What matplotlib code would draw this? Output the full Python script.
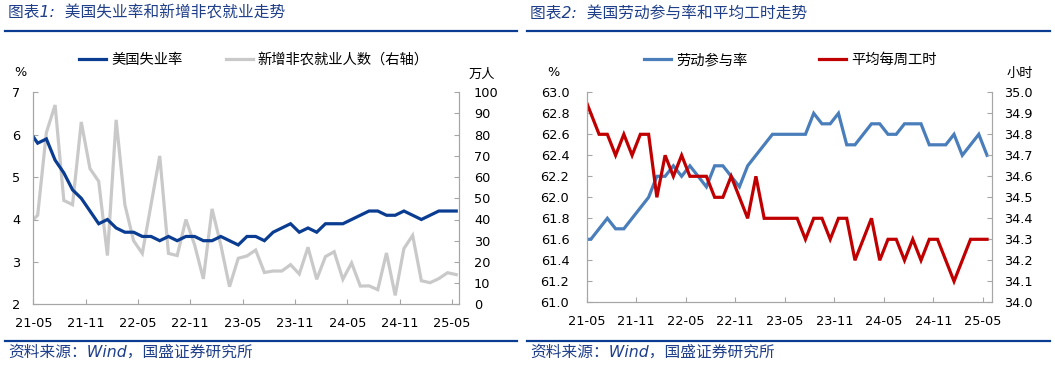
import numpy as np
import matplotlib
matplotlib.use('Agg')
import matplotlib.pyplot as plt
from matplotlib.lines import Line2D

plt.rcParams['font.family'] = ['DejaVu Sans', 'Noto Sans CJK SC']
plt.rcParams['axes.unicode_minus'] = False

# 月度数据, 2021-04 ~ 2025-05
unemp = [6.1, 5.8, 5.9, 5.4, 5.1, 4.7, 4.5, 4.2, 3.9, 4.0,
         3.8, 3.7, 3.7, 3.6, 3.6, 3.5, 3.6, 3.5, 3.6, 3.6,
         3.5, 3.5, 3.6, 3.5, 3.4, 3.6, 3.6, 3.5, 3.7, 3.8,
         3.9, 3.7, 3.8, 3.7, 3.9, 3.9, 3.9, 4.0, 4.1, 4.2,
         4.2, 4.1, 4.1, 4.2, 4.1, 4.0, 4.1, 4.2, 4.2, 4.2]
payrolls = [38, 42, 81, 94, 49, 47, 86, 64, 58, 23,
            87, 47, 30, 24, 47, 70, 24, 23, 40, 28,
            12, 45, 28, 8.3, 21.7, 22.8, 25.6, 15, 15.7, 15.7,
            18.7, 14.3, 26.9, 11.8, 22.5, 24.8, 11.8, 19.5, 8.6, 8.7,
            6.9, 24.2, 4.2, 26.3, 32.5, 11.1, 10.2, 12.1, 14.9, 14]
lfpr = [61.6, 61.6, 61.7, 61.8, 61.7, 61.7, 61.8, 61.9, 62.0, 62.2,
        62.2, 62.3, 62.2, 62.3, 62.2, 62.1, 62.3, 62.3, 62.2, 62.1,
        62.3, 62.4, 62.5, 62.6, 62.6, 62.6, 62.6, 62.6, 62.8, 62.7,
        62.7, 62.8, 62.5, 62.5, 62.6, 62.7, 62.7, 62.6, 62.6, 62.7,
        62.7, 62.7, 62.5, 62.5, 62.5, 62.6, 62.4, 62.5, 62.6, 62.4]
hours = [35.0, 34.9, 34.8, 34.8, 34.7, 34.8, 34.7, 34.8, 34.8, 34.5,
         34.7, 34.6, 34.7, 34.6, 34.6, 34.6, 34.5, 34.5, 34.6, 34.5,
         34.4, 34.6, 34.4, 34.4, 34.4, 34.4, 34.4, 34.3, 34.4, 34.4,
         34.3, 34.4, 34.4, 34.2, 34.3, 34.4, 34.2, 34.3, 34.3, 34.2,
         34.3, 34.2, 34.3, 34.3, 34.2, 34.1, 34.2, 34.3, 34.3, 34.3]
tick_labels = ['21-05', '21-11', '22-05', '22-11', '23-05',
               '23-11', '24-05', '24-11', '25-05']

x = np.arange(len(unemp)) - 0.5  # 每月画在月中, 第一个点是21-04
tick_pos = np.arange(len(tick_labels)) * 6

navy = '#0A3D91'
title_c = '#1F3F8A'
axis_c = '#A6A6A6'

W, H = 1055, 365
fig = plt.figure(figsize=(W / 100, H / 100), dpi=100)


def style(ax, ax_r, lpad, rpad):
    for a in (ax, ax_r):
        for s in a.spines.values():
            s.set_color(axis_c)
            s.set_linewidth(0.8)
        a.spines['top'].set_visible(False)
    ax.tick_params(axis='x', direction='in', length=3.5, color=axis_c,
                   labelsize=9.3, pad=9)
    ax.tick_params(axis='y', direction='in', length=3.5, color=axis_c,
                   labelsize=9.3, pad=lpad)
    ax_r.tick_params(axis='y', direction='in', length=3.5, color=axis_c,
                     labelsize=9.3, pad=rpad)
    ax.set_xticks(tick_pos)
    ax.set_xticklabels(tick_labels)


# 左图: 失业率 + 新增非农
ax1 = fig.add_axes([33.3 / W, 1 - 304.3 / H, 426 / W, 212 / H])
ax1b = ax1.twinx()
ax1.set_zorder(ax1b.get_zorder() + 1)
ax1.patch.set_visible(False)
h2, = ax1b.plot(x, payrolls, color='#C9C9C9', lw=2.3, solid_joinstyle='miter')
h1, = ax1.plot(x, unemp, color=navy, lw=2.3, solid_joinstyle='miter')
ax1.set_xlim(0, 48.85)
ax1.set_ylim(2, 7)
ax1b.set_ylim(0, 100)
ax1.set_yticks(range(2, 8))
ax1b.set_yticks(range(0, 101, 10))
style(ax1, ax1b, 9.5, 10.5)
ax1b.legend([h1, h2], ['美国失业率', '新增非农就业人数（右轴）'], loc='center',
            bbox_to_anchor=(254 / W, 1 - 60 / H), bbox_transform=fig.transFigure,
            ncol=2, frameon=False, fontsize=10.3, handlelength=1.9,
            handletextpad=0.35, columnspacing=3.0)

# 右图: 劳动参与率 + 平均每周工时
ax2 = fig.add_axes([586.7 / W, 1 - 302.3 / H, 405.3 / W, 210 / H])
ax2b = ax2.twinx()
g1, = ax2.plot(x, lfpr, color='#4A7EBB', lw=2.3, solid_joinstyle='miter')
g2, = ax2b.plot(x, hours, color='#C00000', lw=2.3, solid_joinstyle='miter')
ax2.set_xlim(0, 49.1)
ax2.set_ylim(61.0, 63.0)
ax2b.set_ylim(34.0, 35.0)
ax2.set_yticks(np.linspace(61.0, 63.0, 11))
ax2b.set_yticks(np.linspace(34.0, 35.0, 11))
ax2.yaxis.set_major_formatter('{x:.1f}')
ax2b.yaxis.set_major_formatter('{x:.1f}')
style(ax2, ax2b, 12.5, 8.6)
ax2b.legend([g1, g2], ['劳动参与率', '平均每周工时'], loc='center',
            bbox_to_anchor=(790 / W, 1 - 60 / H), bbox_transform=fig.transFigure,
            ncol=2, frameon=False, fontsize=10.3, handlelength=1.9,
            handletextpad=0.35, columnspacing=5.0)

# 单位
fig.text(20 / W, 1 - 73 / H, '%', ha='center', va='center', fontsize=9.3)
fig.text(482 / W, 1 - 74 / H, '万人', ha='center', va='center', fontsize=9.5)
fig.text(553 / W, 1 - 73 / H, '%', ha='center', va='center', fontsize=9.3)
fig.text(1020 / W, 1 - 74 / H, '小时', ha='center', va='center', fontsize=9.5)

# 标题, 来源, 分隔线
for x0, x1, t in [(5, 517, '图表1:  美国失业率和新增非农就业走势'),
                  (527, 1050, '图表2:  美国劳动参与率和平均工时走势')]:
    fig.text((x0 + 3) / W, 1 - 13 / H, t, ha='left', va='center',
             fontsize=11.3, style='italic', color=title_c)
    fig.text((x0 + 3) / W, 1 - 352 / H, '资料来源：Wind，国盛证券研究所',
             ha='left', va='center', fontsize=11.3, style='italic', color=title_c)
    for yy in (31, 341):
        fig.add_artist(Line2D([x0 / W, x1 / W], [1 - yy / H] * 2, color=navy,
                              lw=1.6, transform=fig.transFigure))

fig.savefig('out.png', dpi=100)
